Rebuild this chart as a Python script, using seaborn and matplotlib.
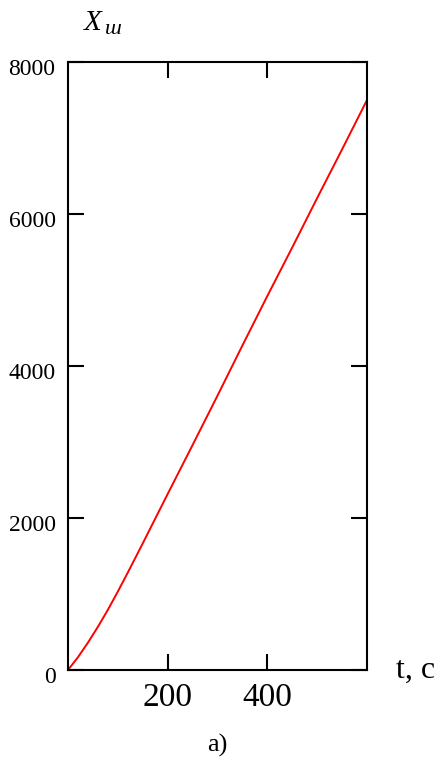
import matplotlib
matplotlib.use("Agg")
import matplotlib.pyplot as plt
import matplotlib.transforms as mtransforms
import seaborn as sns
import pandas as pd

# data
t_values = [0, 20, 40, 60, 80, 100, 120, 150, 200, 250, 300, 350, 400, 450, 500, 550, 600]
x_values = [0, 168, 360, 568, 792, 1032, 1282, 1666, 2316, 2960, 3610, 4270, 4921, 5560, 6210, 6850, 7500]
x_ticks = [200, 400]
y_ticks = [0, 2000, 4000, 6000, 8000]

sns.set_style("white")
plt.rcParams['font.family'] = ['Liberation Serif', 'DejaVu Serif']
plt.rcParams['text.color'] = 'black'
plt.rcParams['xtick.color'] = 'black'
plt.rcParams['ytick.color'] = 'black'

df = pd.DataFrame({"t": t_values, "x": x_values})

fig = plt.figure(figsize=(4.38, 7.6), dpi=100)
ax = fig.add_axes([68/438, 90/760, 299/438, 608/760])
sns.lineplot(data=df, x="t", y="x", ax=ax, color="#ff0000", linewidth=1.4)

ax.set_xlim(0, 600)
ax.set_ylim(0, 8000)
ax.set_xticks(x_ticks)
ax.set_yticks(y_ticks)
ax.set_xlabel("")
ax.set_ylabel("")

for s in ax.spines.values():
    s.set_color("black")
    s.set_linewidth(1.5)
    s.set_visible(True)

ax.tick_params(axis="both", direction="in", length=11.5, width=1.5, color="black",
               labelcolor="black", bottom=True, left=True, top=True, right=True,
               labeltop=False, labelright=False, labelbottom=True, labelleft=True)
ax.tick_params(axis="x", labelsize=24, pad=9)
ax.tick_params(axis="y", labelsize=17, pad=9)

offset = mtransforms.ScaledTranslation(0, -5/100, fig.dpi_scale_trans)
for lab in ax.get_yticklabels():
    lab.set_transform(lab.get_transform() + offset)

fig.text(84/438, 1 - 23/760, "X", fontsize=21, style="italic", ha="left", va="center", color="black")
fig.text(104/438, 1 - 30/760, "ш", fontsize=16, style="italic", ha="left", va="center", color="black")
fig.text(416/438, 1 - 670/760, "t, c", fontsize=23, ha="center", va="center", color="black")
fig.text(217/438, 1 - 745/760, "a)", fontsize=19, ha="center", va="center", color="black")

fig.savefig("out.png", dpi=100)
